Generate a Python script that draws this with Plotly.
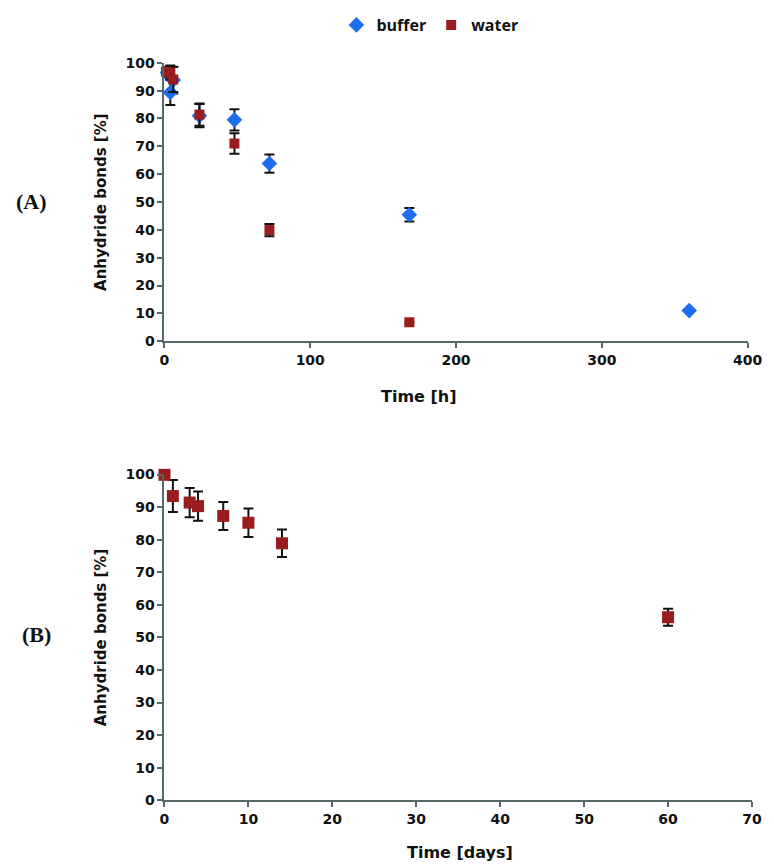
import plotly.graph_objects as go

# Panel A (hours)
buffer_t = [2, 4, 6, 24, 48, 72, 168, 360]
buffer_v = [96.5, 89.3, 93.8, 81.0, 79.5, 63.8, 45.4, 11.0]
buffer_e = [2.0, 4.5, 4.8, 4.2, 3.8, 3.3, 2.4, 0.0]

water_t = [1, 4, 6, 24, 48, 72, 168]
water_v = [96.8, 96.5, 94.0, 81.4, 71.0, 39.9, 6.8]
water_e = [1.8, 2.5, 4.5, 4.0, 3.7, 2.2, 0.0]

# Panel B (days)
days_t = [0, 1, 3, 4, 7, 10, 14, 60]
days_v = [99.9, 93.4, 91.4, 90.3, 87.3, 85.2, 78.9, 56.2]
days_e = [0.0, 4.9, 4.5, 4.5, 4.3, 4.4, 4.2, 2.6]

y_ticks = list(range(0, 101, 10))
xA_ticks = [0, 100, 200, 300, 400]
xB_ticks = [0, 10, 20, 30, 40, 50, 60, 70]

BLUE = "#1e6cf0"
RED = "#9a1d1d"
AXC = "#55686a"
W, H = 774, 866
BOLD = "DejaVu Sans"
TICKFONT = dict(family=BOLD, size=14, color="#111", weight="bold")

err = lambda e: dict(type="data", array=e, visible=True, color="#111", thickness=2, width=5)

fig = go.Figure()
fig.add_trace(go.Scatter(x=buffer_t, y=buffer_v, error_y=err(buffer_e), mode="markers",
                         name="buffer", marker=dict(symbol="diamond", size=12, color=BLUE),
                         xaxis="x", yaxis="y", cliponaxis=False))
fig.add_trace(go.Scatter(x=water_t, y=water_v, error_y=err(water_e), mode="markers",
                         name="water", marker=dict(symbol="square", size=10, color=RED),
                         xaxis="x", yaxis="y", cliponaxis=False))
fig.add_trace(go.Scatter(x=days_t, y=days_v, error_y=err(days_e), mode="markers",
                         name="water", showlegend=False,
                         marker=dict(symbol="square", size=12, color=RED),
                         xaxis="x2", yaxis="y2", cliponaxis=False))

ax_common = dict(showline=True, linecolor=AXC, linewidth=2, ticks="outside", tickcolor=AXC,
                 ticklen=5, tickwidth=2, showgrid=False, zeroline=False, tickfont=TICKFONT)

fig.update_layout(
    width=W, height=H, margin=dict(l=0, r=0, t=0, b=0),
    paper_bgcolor="white", plot_bgcolor="white",
    xaxis=dict(domain=[155.5 / W, 754 / W], range=[0, 400], tickvals=xA_ticks, anchor="y", **ax_common),
    yaxis=dict(domain=[1 - 330.7 / H, 1 - 46.7 / H], range=[0, 100], tickvals=y_ticks, anchor="x", **ax_common),
    xaxis2=dict(domain=[155.5 / W, 758.6 / W], range=[0, 70], tickvals=xB_ticks, anchor="y2", **ax_common),
    yaxis2=dict(domain=[1 - 799 / H, 1 - 466.7 / H], range=[0, 100], tickvals=y_ticks, anchor="x2", **ax_common),
    showlegend=True,
    legend=dict(orientation="h", x=332 / W, y=1 - 8 / H, xanchor="left", yanchor="middle",
                font=dict(family="Open Sans", size=16, color="#111", weight="bold"),
                itemwidth=30, tracegroupgap=0, bgcolor="rgba(0,0,0,0)"),
)

title_font = dict(family=BOLD, size=15, color="#111", weight="bold")
xtitle_font = dict(family=BOLD, size=16, color="#111", weight="bold")
annots = [
    dict(text="Time [h]", x=417 / W, y=1 - 387 / H, font=xtitle_font),
    dict(text="Time [days]", x=459 / W, y=1 - 852 / H, font=xtitle_font),
    dict(text="Anhydride bonds [%]", x=91 / W, y=1 - 189 / H, font=title_font, textangle=-90),
    dict(text="Anhydride bonds [%]", x=90 / W, y=1 - 633 / H, font=title_font, textangle=-90),
    dict(text="<b>(A)</b>", x=19 / W, y=1 - 188 / H,
         font=dict(family="Liberation Serif, Times New Roman", size=22, color="#111")),
    dict(text="<b>(B)</b>", x=24 / W, y=1 - 630 / H,
         font=dict(family="Liberation Serif, Times New Roman", size=22, color="#111")),
]
for a in annots:
    fig.add_annotation(xref="paper", yref="paper", showarrow=False, xanchor="center", yanchor="middle", **a)

fig.write_html("out.html")
